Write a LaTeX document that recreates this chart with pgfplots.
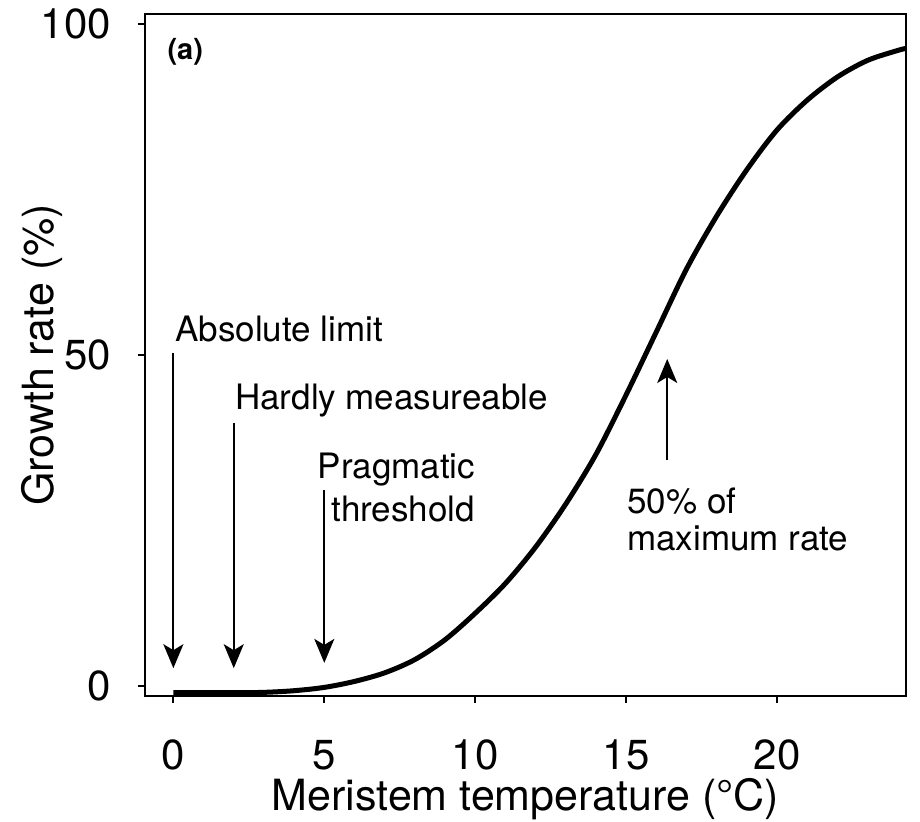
\documentclass[border=0pt]{standalone}
\usepackage{fontspec}
\setmainfont{TeX Gyre Heros}
\usepackage{pgfplots}
\pgfplotsset{compat=1.18}
\usetikzlibrary{arrows.meta}
\begin{document}
\begin{tikzpicture}
\path[use as bounding box] (0,0) rectangle (920bp,822bp);
\begin{axis}[
  at={(145bp,126bp)}, anchor=south west,
  scale only axis, width=761bp, height=682bp,
  xmin=-0.94, xmax=24.27, ymin=-1.5, ymax=101.5,
  xtick={0,5,10,15,20}, ytick={0,50,100},
  axis line style={line width=2bp},
  tick style={line width=2bp, black},
  tick align=outside, major tick length=7bp,
  xtick pos=bottom, ytick pos=left,
  /pgf/number format/assume math mode=true,
  ticklabel style={font=\fontsize{42bp}{46bp}\selectfont, inner sep=0pt},
  xticklabel style={anchor=base, yshift=-66bp},
  yticklabel style={anchor=east, xshift=-27bp},
  xlabel={Meristem temperature (°C)},
  ylabel={Growth rate (\%)},
  label style={font=\fontsize{43bp}{48bp}\selectfont, inner sep=0pt},
  xlabel style={at={(axis description cs:0.5,0)}, anchor=base, yshift=-114bp},
  ylabel style={at={(axis description cs:-0.12,0.5)}, anchor=base, rotate=0},
  clip=false,
]
\addplot[line width=5bp, black, smooth] coordinates {
(0,-1) (1,-1) (2,-1) (3,-0.95) (4,-0.7) (5,-0.2) (6,0.7) (7,2) (8,4)
(9,7) (10,11) (11,15.5) (12,21) (13,27.5) (14,35) (15,44) (16,53.5)
(17,63) (18,71) (19,78) (20,84) (21,88.5) (22,92) (23,94.5) (24,96) (24.27,96.3)
};
\tikzset{arr/.style={line width=2bp, -{Stealth[length=24bp, width=20bp, inset=6bp]}}}
\draw[arr] (axis cs:0,50.3) -- (axis cs:0,2.7);
\draw[arr] (axis cs:2,39.7) -- (axis cs:2,2.7);
\draw[arr] (axis cs:5,29.6) -- (axis cs:5,3.5);
\draw[arr] (axis cs:16.36,34.1) -- (axis cs:16.36,49.4);
\tikzset{lab/.style={inner sep=0pt, font=\fontsize{35bp}{40bp}\selectfont}}
\node[lab, anchor=base west] at (axis cs:0.05,52) {Absolute limit};
\node[lab, anchor=base west] at (axis cs:2.04,41.7) {Hardly measureable};
\node[lab, anchor=base east] at (axis cs:10.0,31.3) {Pragmatic};
\node[lab, anchor=base east] at (axis cs:10.0,24.9) {threshold};
\node[lab, anchor=base west] at (axis cs:15.03,26.1) {50\% of};
\node[lab, anchor=base west] at (axis cs:15.03,20.5) {maximum rate};
\node[inner sep=0pt, anchor=base west, font=\fontsize{29bp}{32bp}\selectfont\bfseries] at (axis cs:-0.2,94.6) {(a)};
\end{axis}
\end{tikzpicture}
\end{document}
